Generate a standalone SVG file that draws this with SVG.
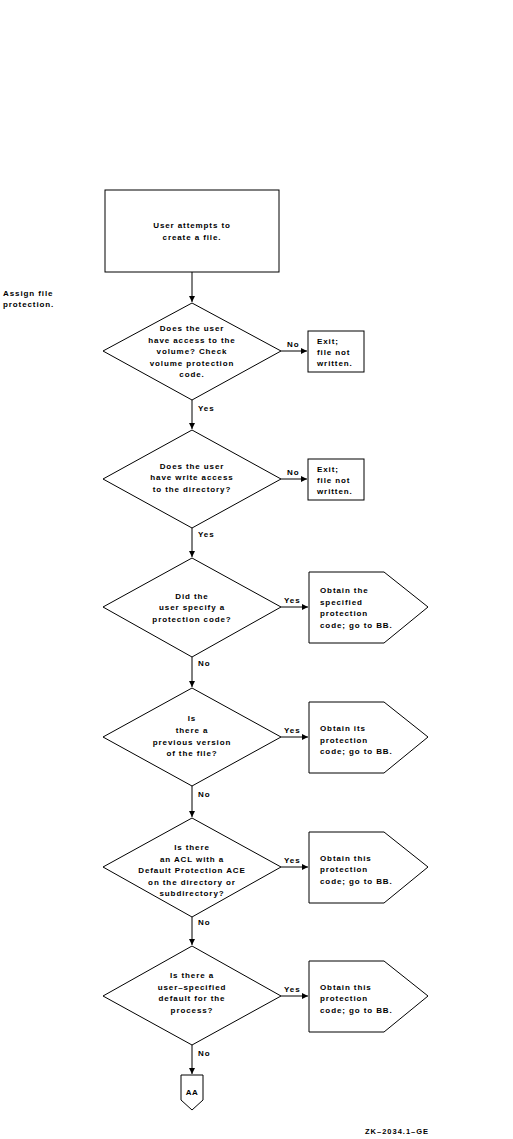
<svg xmlns="http://www.w3.org/2000/svg" width="513" height="1139" viewBox="0 0 513 1139">
<defs>
<style>
text{font-family:"Liberation Sans",Arial,sans-serif;font-size:8px;font-weight:bold;letter-spacing:0.9px;fill:#000}
.c{text-anchor:middle}
.s{fill:#fff;stroke:#000;stroke-width:1}
.l{fill:none;stroke:#000;stroke-width:1}
.small{font-size:7.5px;letter-spacing:1px}
</style>
<marker id="ah" viewBox="0 0 10 10" refX="10" refY="5" markerWidth="6" markerHeight="6" orient="auto" markerUnits="userSpaceOnUse">
<path d="M0,0 L10,5 L0,10 Z" fill="#000"/>
</marker>
</defs>
<rect width="513" height="1139" fill="#fff"/>
<text x="3" y="296">Assign file</text>
<text x="3" y="307">protection.</text>

<g id="connectors">
<line class="l" x1="192" y1="272" x2="192" y2="302" marker-end="url(#ah)"/>
<line class="l" x1="281" y1="351" x2="307" y2="351" marker-end="url(#ah)"/>
<line class="l" x1="192" y1="400" x2="192" y2="429" marker-end="url(#ah)"/>
<line class="l" x1="281" y1="479" x2="307" y2="479" marker-end="url(#ah)"/>
<line class="l" x1="192" y1="528" x2="192" y2="557" marker-end="url(#ah)"/>
<line class="l" x1="281" y1="607" x2="308" y2="607" marker-end="url(#ah)"/>
<line class="l" x1="192" y1="657" x2="192" y2="687" marker-end="url(#ah)"/>
<line class="l" x1="281" y1="737" x2="308" y2="737" marker-end="url(#ah)"/>
<line class="l" x1="192" y1="786" x2="192" y2="817" marker-end="url(#ah)"/>
<line class="l" x1="281" y1="867" x2="308" y2="867" marker-end="url(#ah)"/>
<line class="l" x1="192" y1="917" x2="192" y2="945" marker-end="url(#ah)"/>
<line class="l" x1="281" y1="996" x2="308" y2="996" marker-end="url(#ah)"/>
<line class="l" x1="192" y1="1045" x2="192" y2="1074" marker-end="url(#ah)"/>
<text x="287" y="347">No</text>
<text x="198" y="411">Yes</text>
<text x="287" y="475">No</text>
<text x="198" y="537">Yes</text>
<text x="284" y="603">Yes</text>
<text x="198" y="666">No</text>
<text x="284" y="733">Yes</text>
<text x="198" y="797">No</text>
<text x="284" y="863">Yes</text>
<text x="198" y="925">No</text>
<text x="284" y="992">Yes</text>
<text x="198" y="1056">No</text>
</g>

<g id="start">
<rect class="s" x="105" y="190" width="174" height="82"/>
<text class="c" x="192" y="228">User attempts to</text>
<text class="c" x="192" y="240">create a file.</text>
</g>

<g id="d1">
<polygon class="s" points="192,303 281,351 192,400 103,351"/>
<text class="c" x="192" y="331">Does the user</text>
<text class="c" x="192" y="343">have access to the</text>
<text class="c" x="192" y="354">volume? Check</text>
<text class="c" x="192" y="366">volume protection</text>
<text class="c" x="192" y="377">code.</text>
</g>
<g id="exit1">
<rect class="s" x="308" y="331" width="56" height="41"/>
<text x="317" y="344">Exit;</text>
<text x="317" y="355">file not</text>
<text x="317" y="366">written.</text>
</g>

<g id="d2">
<polygon class="s" points="192,430 281,479 192,528 103,479"/>
<text class="c" x="192" y="469">Does the user</text>
<text class="c" x="192" y="480">have write access</text>
<text class="c" x="192" y="492">to the directory?</text>
</g>
<g id="exit2">
<rect class="s" x="308" y="459" width="56" height="41"/>
<text x="317" y="472">Exit;</text>
<text x="317" y="483">file not</text>
<text x="317" y="494">written.</text>
</g>

<g id="d3">
<polygon class="s" points="192,558 281,607 192,657 103,607"/>
<text class="c" x="192" y="599">Did the</text>
<text class="c" x="192" y="610">user specify a</text>
<text class="c" x="192" y="622">protection code?</text>
</g>
<g id="p3">
<polygon class="s" points="309,572 384,572 428,607 384,643 309,643"/>
<text x="320" y="593">Obtain the</text>
<text x="320" y="605">specified</text>
<text x="320" y="616">protection</text>
<text x="320" y="628">code; go to BB.</text>
</g>

<g id="d4">
<polygon class="s" points="192,688 281,737 192,786 103,737"/>
<text class="c" x="192" y="721">Is</text>
<text class="c" x="192" y="733">there a</text>
<text class="c" x="192" y="745">previous version</text>
<text class="c" x="192" y="756">of the file?</text>
</g>
<g id="p4">
<polygon class="s" points="309,702 384,702 428,737 384,773 309,773"/>
<text x="320" y="731">Obtain its</text>
<text x="320" y="743">protection</text>
<text x="320" y="754">code; go to BB.</text>
</g>

<g id="d5">
<polygon class="s" points="192,818 281,867 192,917 103,867"/>
<text class="c" x="192" y="850">Is there</text>
<text class="c" x="192" y="862">an ACL with a</text>
<text class="c" x="192" y="873">Default Protection ACE</text>
<text class="c" x="192" y="885">on the directory or</text>
<text class="c" x="192" y="896">subdirectory?</text>
</g>
<g id="p5">
<polygon class="s" points="309,832 384,832 428,867 384,903 309,903"/>
<text x="320" y="861">Obtain this</text>
<text x="320" y="872">protection</text>
<text x="320" y="884">code; go to BB.</text>
</g>

<g id="d6">
<polygon class="s" points="192,946 281,996 192,1045 103,996"/>
<text class="c" x="192" y="978">Is there a</text>
<text class="c" x="192" y="990">user–specified</text>
<text class="c" x="192" y="1001">default for the</text>
<text class="c" x="192" y="1013">process?</text>
</g>
<g id="p6">
<polygon class="s" points="309,961 384,961 428,996 384,1032 309,1032"/>
<text x="320" y="990">Obtain this</text>
<text x="320" y="1001">protection</text>
<text x="320" y="1013">code; go to BB.</text>
</g>

<g id="aa">
<polygon class="s" points="181,1075 203,1075 203,1100 192,1110 181,1100"/>
<text class="c" x="192" y="1095" style="letter-spacing:0.5px">AA</text>
</g>

<text class="small" x="365" y="1134">ZK–2034.1–GE</text>
</svg>
